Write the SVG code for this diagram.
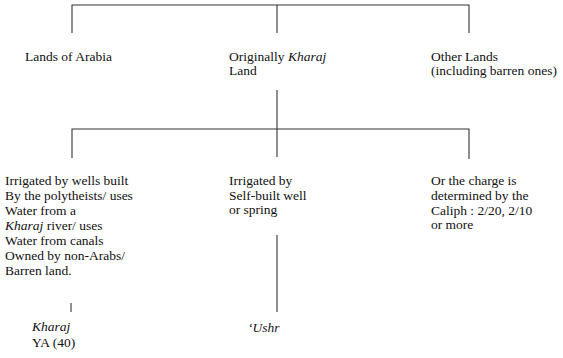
<svg xmlns="http://www.w3.org/2000/svg" width="563" height="358" viewBox="0 0 563 358">
<style>
.t{font-family:"Liberation Serif","Times New Roman",serif;font-size:13.5px;fill:#111}
.i{font-style:italic}
.c{stroke:#333;stroke-width:1.1;fill:none}
</style>
<rect width="563" height="358" fill="#fff"/>
<g id="connectors">
<polyline class="c" points="72,33 72,5 469,5 469,33"/>
<line class="c" x1="277" y1="5" x2="277" y2="33"/>
<line class="c" x1="277" y1="90" x2="277" y2="157"/>
<polyline class="c" points="72,158 72,129 469,129 469,159"/>
<line class="c" x1="277" y1="235" x2="277" y2="312"/>
<line class="c" x1="71" y1="303" x2="71" y2="312"/>
</g>
<g id="lands-of-arabia"><text class="t" x="25" y="61">Lands of Arabia</text></g>
<g id="originally-kharaj"><text class="t" x="229" y="61">Originally <tspan class="i">Kharaj</tspan></text><text class="t" x="229" y="75">Land</text></g>
<g id="other-lands"><text class="t" x="431" y="61">Other Lands</text><text class="t" x="431" y="75">(including barren ones)</text></g>
<g id="irrigated-wells">
<text class="t" x="5" y="185">Irrigated by wells built</text>
<text class="t" x="5" y="200">By the polytheists/ uses</text>
<text class="t" x="5" y="215">Water from a</text>
<text class="t" x="5" y="230"><tspan class="i">Kharaj</tspan> river/ uses</text>
<text class="t" x="5" y="245">Water from canals</text>
<text class="t" x="5" y="260">Owned by non-Arabs/</text>
<text class="t" x="5" y="275">Barren land.</text>
</g>
<g id="irrigated-self">
<text class="t" x="229" y="185">Irrigated by</text>
<text class="t" x="229" y="200">Self-built well</text>
<text class="t" x="229" y="214">or spring</text>
</g>
<g id="caliph">
<text class="t" x="431" y="185">Or the charge is</text>
<text class="t" x="431" y="200">determined by the</text>
<text class="t" x="431" y="215">Caliph : 2/20, 2/10</text>
<text class="t" x="431" y="229">or more</text>
</g>
<g id="kharaj"><text class="t i" x="32" y="331">Kharaj</text><text class="t" x="32" y="347">YA (40)</text></g>
<g id="ushr"><text class="t i" x="248" y="332">‘Ushr</text></g>
</svg>
